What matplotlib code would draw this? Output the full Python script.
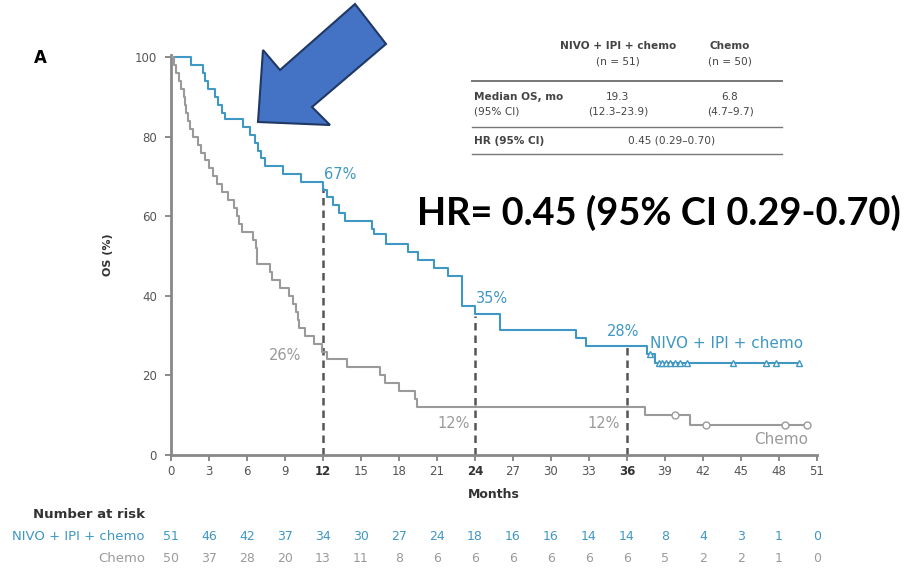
import matplotlib
matplotlib.use("Agg")
import matplotlib.pyplot as plt
from matplotlib.patches import Polygon
from matplotlib.transforms import blended_transform_factory
import numpy as np

plt.rcParams['font.family'] = ['DejaVu Sans']

W, H = 915, 568

# KM steps: (time of event, survival after it)
nivo_t = [0, 1.6, 2.5, 2.7, 2.9, 3.5, 3.7, 4.0, 4.3, 5.7, 6.2, 6.6, 6.9, 7.1, 7.4, 8.85,
          10.3, 12.0, 12.3, 12.8, 13.3, 13.7, 15.9, 16.0, 17.0, 18.7, 19.5, 20.8, 21.9,
          23.0, 24.0, 26.0, 32.0, 32.8, 37.6, 38.2, 49.6]
nivo_s = [100, 98, 96, 94, 92, 90, 88, 86, 84.3, 82.3, 80.4, 78.4, 76.5, 74.5, 72.5, 70.6,
          68.6, 66.7, 64.7, 62.7, 60.8, 58.8, 56.8, 55.5, 53, 51, 49, 47, 45,
          37.5, 35.5, 31.5, 29.5, 27.5, 25.5, 23, 23]
nivo_cens_t = [37.8, 38.5, 38.8, 39.1, 39.4, 39.8, 40.2, 40.7, 44.4, 47.0, 47.8, 49.6]
nivo_cens_s = [25.5, 23, 23, 23, 23, 23, 23, 23, 23, 23, 23, 23]

chemo_t = [0, 0.2, 0.4, 0.6, 0.8, 1.0, 1.1, 1.2, 1.35, 1.5, 1.7, 2.1, 2.4, 2.7, 3.0, 3.3,
           3.6, 4.0, 4.5, 5.0, 5.2, 5.4, 5.6, 6.5, 6.7, 6.8, 7.8, 8.0, 8.6, 9.3, 9.6,
           9.9, 10.0, 10.1, 10.6, 11.3, 11.9, 12.3, 13.9, 16.5, 16.9, 18.0, 19.3, 19.4,
           37.4, 41.0, 50.2]
chemo_s = [100, 98, 96, 94, 92, 90, 88, 86, 84, 82, 80, 78, 76, 74, 72, 70,
           68, 66, 64, 62, 60, 58, 56, 54, 52, 48, 46, 44, 42, 40, 38,
           36, 34, 32, 30, 28, 26, 24, 22, 20, 18, 16, 14, 12,
           10, 7.5, 7.5]
chemo_cens_t = [39.8, 42.2, 48.5, 50.2]
chemo_cens_s = [10, 7.5, 7.5, 7.5]

landmark_t = [12, 24, 36]
landmark_nivo = [67, 35, 28]
landmark_chemo = [26, 12, 12]

risk_t = list(range(0, 52, 3))
risk_nivo = [51, 46, 42, 37, 34, 30, 27, 24, 18, 16, 16, 14, 14, 8, 4, 3, 1, 0]
risk_chemo = [50, 37, 28, 20, 13, 11, 8, 6, 6, 6, 6, 6, 6, 5, 2, 2, 1, 0]

BLUE = '#3f97c4'
GRAY = '#9a9a9a'
DARK = '#444444'


def fx(x):
    return x / W


def fy(y):
    return 1 - y / H


fig = plt.figure(figsize=(W / 100, H / 100), dpi=100)
ax = fig.add_axes([fx(171), fy(455), fx(817) - fx(171), fy(55) - fy(455)])

ax.step(nivo_t, nivo_s, where='post', color=BLUE, lw=1.5, zorder=3)
ax.step(chemo_t, chemo_s, where='post', color=GRAY, lw=1.5, zorder=3)
ax.plot(nivo_cens_t, nivo_cens_s, ls='none', marker='^', ms=5, mfc='white',
        mec=BLUE, mew=1.0, zorder=4)
ax.plot(chemo_cens_t, chemo_cens_s, ls='none', marker='o', ms=5, mfc='white',
        mec=GRAY, mew=1.0, zorder=4)

ax.vlines(landmark_t, 0, landmark_nivo, colors='#555555', linestyles=(0, (3, 2)),
          lw=1.8, zorder=2)

# landmark labels
lf = 10.5
ax.text(landmark_t[0] + 0.1, landmark_nivo[0] + 1.5, '%d%%' % landmark_nivo[0],
        color=BLUE, fontsize=lf, ha='left', va='bottom')
ax.text(landmark_t[1] + 0.1, landmark_nivo[1] + 2.5, '%d%%' % landmark_nivo[1],
        color=BLUE, fontsize=lf, ha='left', va='bottom')
ax.text(landmark_t[2] - 0.3, landmark_nivo[2] + 1.2, '%d%%' % landmark_nivo[2],
        color=BLUE, fontsize=lf, ha='center', va='bottom')
ax.text(landmark_t[0] - 1.7, landmark_chemo[0] - 1, '%d%%' % landmark_chemo[0],
        color=GRAY, fontsize=lf, ha='right', va='center')
ax.text(landmark_t[1] - 0.4, landmark_chemo[1] - 4, '%d%%' % landmark_chemo[1],
        color=GRAY, fontsize=lf, ha='right', va='center')
ax.text(landmark_t[2] - 0.6, landmark_chemo[2] - 4, '%d%%' % landmark_chemo[2],
        color=GRAY, fontsize=lf, ha='right', va='center')

ax.text(37.8, 28, 'NIVO + IPI + chemo', color=BLUE, fontsize=11, ha='left', va='center')
ax.text(50.3, 4.0, 'Chemo', color=GRAY, fontsize=11, ha='right', va='center')

ax.set_xlim(0, 51)
ax.set_ylim(0, 100.5)
ax.set_xticks(risk_t)
ax.set_yticks(range(0, 101, 20))
ax.tick_params(axis='both', colors='#777777', labelcolor='#555555', labelsize=8.5,
               length=4, width=1.2, direction='out')
ax.tick_params(axis='y', pad=6)
for lab in ax.get_xticklabels():
    if int(lab.get_text()) in landmark_t:
        lab.set_fontweight('bold')
        lab.set_color('#333333')
for s in ['top', 'right']:
    ax.spines[s].set_visible(False)
for s in ['left', 'bottom']:
    ax.spines[s].set_color('#888888')
    ax.spines[s].set_linewidth(2)
ax.set_xlabel('Months', fontsize=9, fontweight='bold', color='#333333', labelpad=7)
ax.set_ylabel('OS (%)', fontsize=8, fontweight='bold', color='#333333', labelpad=16)

# number at risk
tr = blended_transform_factory(ax.transData, fig.transFigure)
rf = 9.5
fig.text(fx(145), fy(515), 'Number at risk', fontsize=rf, fontweight='bold',
         color='#333333', ha='right', va='center')
fig.text(fx(145), fy(537), 'NIVO + IPI + chemo', fontsize=rf, color=BLUE,
         ha='right', va='center')
fig.text(fx(145), fy(558), 'Chemo', fontsize=rf, color=GRAY, ha='right', va='center')
for t, n, c in zip(risk_t, risk_nivo, risk_chemo):
    fig.text(t, fy(537), str(n), transform=tr, fontsize=9, color=BLUE,
             ha='center', va='center')
    fig.text(t, fy(558), str(c), transform=tr, fontsize=9, color=GRAY,
             ha='center', va='center')

# summary table
tc = '#444444'
tf = 7.6
fig.text(fx(618), fy(46), 'NIVO + IPI + chemo', fontsize=tf, fontweight='bold',
         color=tc, ha='center', va='center')
fig.text(fx(618), fy(61), '(n = 51)', fontsize=tf, color=tc, ha='center', va='center')
fig.text(fx(730), fy(46), 'Chemo', fontsize=tf, fontweight='bold', color=tc,
         ha='center', va='center')
fig.text(fx(730), fy(61), '(n = 50)', fontsize=tf, color=tc, ha='center', va='center')
fig.text(fx(474), fy(97), 'Median OS, mo', fontsize=tf, fontweight='bold', color=tc,
         ha='left', va='center')
fig.text(fx(474), fy(112), '(95% CI)', fontsize=tf, color=tc, ha='left', va='center')
fig.text(fx(618), fy(97), '19.3', fontsize=tf, color=tc, ha='center', va='center')
fig.text(fx(618), fy(112), '(12.3\u201323.9)', fontsize=tf, color=tc, ha='center', va='center')
fig.text(fx(730), fy(97), '6.8', fontsize=tf, color=tc, ha='center', va='center')
fig.text(fx(730), fy(112), '(4.7\u20139.7)', fontsize=tf, color=tc, ha='center', va='center')
fig.text(fx(474), fy(141), 'HR (95% CI)', fontsize=tf, fontweight='bold', color=tc,
         ha='left', va='center')
fig.text(fx(672), fy(141), '0.45 (0.29\u20130.70)', fontsize=tf, color=tc,
         ha='center', va='center')
for yy, lw in [(81, 1.4), (127, 1.0), (154, 1.0)]:
    fig.add_artist(plt.Line2D([fx(472), fx(782)], [fy(yy), fy(yy)], color='#777777', lw=lw))

# panel letter and annotations
fig.text(fx(40), fy(58), 'A', fontsize=12, fontweight='bold', color='black',
         ha='center', va='center')
fig.text(fx(417), fy(213), 'HR= 0.45 (95% CI 0.29-0.70)', fontsize=27.3, fontweight='bold',
         family=['Lato', 'DejaVu Sans'], color='black', ha='left', va='center')

arrow_px = [(258, 122), (263, 50), (280, 70), (355, 4), (386, 44), (312, 107), (330, 125)]
arrow = Polygon([(fx(x), fy(y)) for x, y in arrow_px], closed=True,
                transform=fig.transFigure, facecolor='#4472C4', edgecolor='#1f3864',
                lw=1.5, zorder=10)
fig.add_artist(arrow)

fig.savefig('out.png', dpi=100)
